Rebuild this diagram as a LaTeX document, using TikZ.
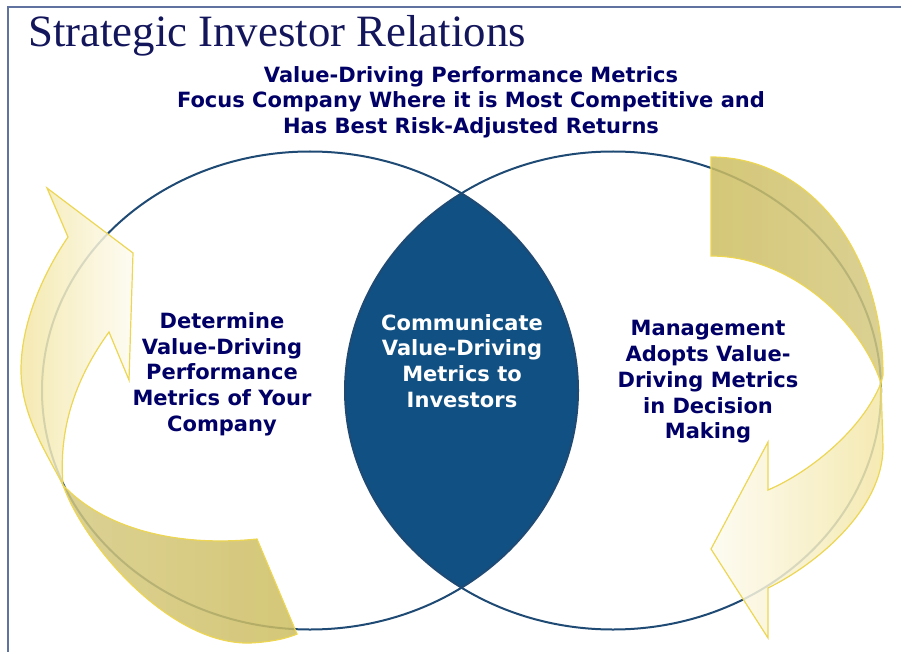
\documentclass[tikz,border=0pt]{standalone}
\usepackage{fontspec}
\setmainfont{Liberation Serif}
\newfontfamily\cyclefont{DejaVu Sans}
\usepackage{tikz}

\definecolor{framecol}{RGB}{96,114,160}
\definecolor{titlecol}{RGB}{20,22,92}
\definecolor{navytext}{RGB}{0,0,102}
\definecolor{ringcol}{RGB}{30,74,116}
\definecolor{lenscol}{RGB}{17,80,131}
\definecolor{goldedge}{RGB}{236,214,84}
\definecolor{golddark}{RGB}{205,189,96}
\definecolor{goldmid}{RGB}{213,201,128}
\definecolor{goldlight}{RGB}{243,230,165}
\definecolor{goldpale}{RGB}{253,251,240}

\begin{document}
\begin{tikzpicture}[x=1pt,y=-1pt,
    ringline/.style={draw=ringcol,line width=2pt},
    cycletext/.style={font=\cyclefont\bfseries\fontsize{21}{25.7}\selectfont,
      text=navytext,align=center,inner sep=0pt},
    band/.style={draw=goldedge,line width=1.2pt,fill opacity=0.85}]
    \useasboundingbox (0,0) rectangle (901,652);
    \draw[framecol,line width=1.5pt] (8,652) -- (8,7) -- (901,7);

    \begin{scope}
      \clip (310,390.5) ellipse [x radius=268,y radius=239];
      \fill[lenscol] (613,390.5) ellipse [x radius=268,y radius=239];
    \end{scope}
    \draw[ringline] (310,390.5) ellipse [x radius=268,y radius=239];
    \draw[ringline] (613,390.5) ellipse [x radius=268,y radius=239];

    % left arrow, back face and front face
    \shade[band,left color=goldlight,right color=goldpale]
      (63,485) .. controls (46,452) and (21,415) .. (21,370)
      .. controls (21,318) and (48,266) .. (68,237)
      -- (47,188) -- (133,253) -- (129,380) -- (109,332)
      .. controls (78,375) and (58,425) .. (63,485) -- cycle;
    \shade[band,left color=goldmid,right color=golddark]
      (63,485) .. controls (84,545) and (170,645) .. (250,643)
      .. controls (272,642) and (288,638) .. (297,634)
      -- (257,539)
      .. controls (170,548) and (100,525) .. (63,485) -- cycle;

    % right arrow
    \shade[band,left color=golddark,right color=goldmid]
      (711,157) .. controls (809,157) and (883,251) .. (883,375) -- (881,383)
      .. controls (860,320) and (790,256) .. (711,256) -- cycle;
    \shade[band,left color=goldpale,right color=goldlight]
      (881,383) -- (883,447) .. controls (883,510) and (815,565) .. (768,588)
      -- (768,638) -- (711,549) -- (768,442) -- (768,490)
      .. controls (810,472) and (862,430) .. (881,383) -- cycle;

    \node[anchor=base west,inner sep=0pt,text=titlecol,
      font=\fontsize{44.8}{50}\selectfont] (title) at (28,47) {Strategic Investor Relations};
    \node[cycletext] (focus) at (471,102)
      {Value-Driving Performance Metrics\\Focus Company Where it is Most Competitive and\\Has Best Risk-Adjusted Returns};
    \node[cycletext] (determine) at (222,374)
      {Determine\\Value-Driving\\Performance\\Metrics of Your\\Company};
    \node[cycletext,text=white] (communicate) at (462,361)
      {Communicate\\Value-Driving\\Metrics to\\Investors};
    \node[cycletext] (adopt) at (708,382)
      {Management\\Adopts Value-\\Driving Metrics\\in Decision\\Making};
\end{tikzpicture}
\end{document}
